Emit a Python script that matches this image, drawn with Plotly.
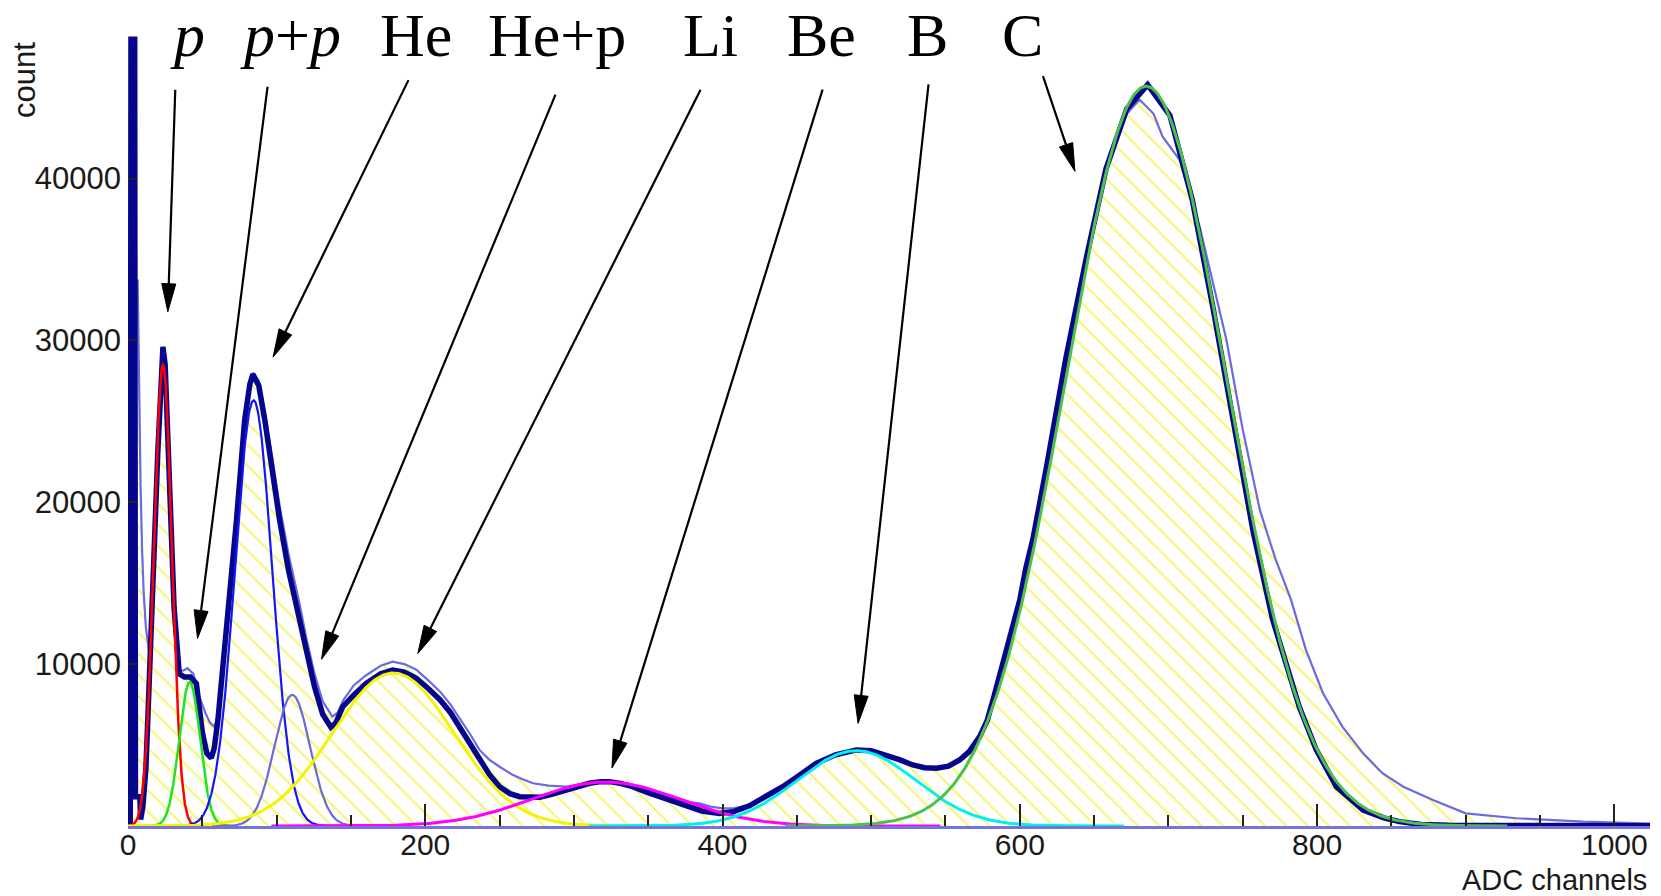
import numpy as np
import plotly.graph_objects as go

# ---- spectrum data: ADC channel -> counts ----
# full spectrum (thick dark histogram)
main_ch = [1.5, 2.0, 4.5, 5.0, 8.0, 8.5, 10, 12, 13.5, 14.5, 16, 18, 20, 22, 23.5, 25, 26.5, 28, 31, 34.5,
           38, 42, 46, 50, 53, 56, 58, 60.5, 65, 70.5, 73, 78.5, 82, 84, 88, 92, 97, 102, 108, 115.5,
           120, 125.5, 131, 136.5, 140, 144.5, 152, 160, 170, 178, 186, 194, 202, 210, 217, 223, 230,
           236.5, 243, 250, 257, 263.5, 270, 277, 285, 295, 302, 310.5, 318, 324, 332, 339.5, 348,
           357.5, 366, 375.5, 386, 398, 408, 418, 430, 440.5, 452, 463, 476, 490, 500, 510, 519, 528,
           536, 544, 552, 559.5, 566, 573, 578, 582, 586, 591, 595.5, 600, 604, 609, 618, 631, 645,
           658, 672, 686, 701, 716, 730, 743, 757, 770, 777, 788, 799.5, 813, 831, 845, 855.5, 870,
           889, 920, 960, 1000, 1024]
main_cnt = [0, 48600, 48600, 1800, 1800, 400, 1200, 3500, 7000, 10000, 13500, 18000, 23000, 27500, 29600,
            28500, 25000, 21000, 13500, 9400, 9200, 9200, 8800, 5800, 4500, 4200, 4800, 6550, 10700,
            15800, 18900, 25100, 27300, 27900, 27200, 25100, 22000, 18900, 15800, 12700, 10700, 8600,
            6900, 6100, 6400, 7370, 8100, 8800, 9400, 9640, 9500, 9130, 8500, 7790, 7000, 6140, 5100,
            4080, 3200, 2430, 2000, 1810, 1750, 1770, 1950, 2220, 2450, 2640, 2740, 2740, 2620, 2430,
            2120, 1810, 1500, 1190, 930, 780, 900, 1250, 1850, 2430, 3150, 3870, 4400, 4700, 4650,
            4390, 4100, 3770, 3600, 3570, 3700, 4080, 4600, 5520, 6500, 7790, 9200, 10880, 12400,
            13970, 15900, 17800, 22200, 28900, 35200, 40600, 44300, 45800, 43900, 38700, 32000, 25200,
            18200, 12800, 10700, 7370, 4700, 2430, 990, 500, 270, 100, 40, 20, 15, 30, 20]

# second spectrum (hatched histogram)
alt_ch = [1.5, 2, 6.5, 7.5, 8.5, 9.5, 10.5, 12, 14, 14.8, 16, 18, 20, 22, 23.5, 25, 26.5, 28, 31, 34.5,
          37, 40, 44, 48, 52, 55, 58, 61, 65, 70.5, 73, 78.5, 82, 84, 88, 92, 97, 102, 108, 115.5, 120,
          125.5, 131, 137.5, 141, 145, 152, 160, 170, 178, 186, 194, 202, 210, 217, 223, 230, 236.5,
          243, 250, 258, 265, 272.5, 283, 295, 302, 310.5, 318, 324, 332, 340, 348, 358, 366, 375.5,
          384.5, 392, 400, 408, 418, 430, 440.5, 452, 463, 476, 490, 500, 510, 519, 528, 536, 544,
          552, 559.5, 566, 573, 578, 582, 586, 591, 595.5, 600, 604, 609, 618, 631, 645, 658, 672,
          680.5, 685, 690, 696, 707.5, 721, 730, 739, 750, 761.5, 772, 782.5, 792.5, 804, 817, 831,
          844, 858, 878, 900, 934, 979, 1019, 1024]
alt_cnt = [0, 33700, 33700, 26000, 20800, 17000, 14500, 12300, 10800, 10300, 13500, 18000, 23000, 27500,
           29600, 28500, 25000, 21000, 13500, 9600, 9600, 9750, 9400, 8000, 7000, 6400, 6140, 6800,
           10700, 15800, 18900, 25100, 27500, 28000, 27500, 25600, 22800, 19800, 16800, 13700, 11600,
           9400, 7700, 6760, 7000, 7800, 8700, 9300, 9900, 10150, 10000, 9650, 9000, 8300, 7500, 6700,
           5700, 4700, 4100, 3660, 3200, 2900, 2640, 2500, 2430, 2550, 2700, 2800, 2780, 2660, 2500,
           2250, 1950, 1700, 1500, 1400, 1200, 1090, 1100, 1300, 1900, 2430, 3150, 3870, 4400, 4700,
           4650, 4390, 4100, 3770, 3600, 3570, 3700, 4080, 4600, 5520, 6500, 7790, 9200, 10880, 12400,
           13970, 15900, 17800, 22200, 28900, 35200, 40600, 44000, 44870, 44460, 44000, 42600, 41160,
           37040, 33500, 30040, 24500, 19530, 16500, 13970, 10880, 8200, 6140, 4490, 3260, 2430, 1610,
           780, 480, 270, 170, 150]

# ---- Gaussian fit components ----
fit_mean = [23.5, 41.5, 84.5, 110.5, 178.5, 321.5, 490.0, 685.0]
fit_sigma = [6.0, 7.0, 12.5, 12.0, 41.0, 50.0, 40.0, 54.0]
fit_amp = [28500, 8900, 26300, 8100, 9450, 2720, 4650, 45700]
fit_color = ["#ff0000", "#1ee61e", "#1414ff", "#6a6ad8", "#f4f400", "#ff00ff", "#00f0f0", "#4cc04c"]
fit_width = [2.5, 2.5, 2.2, 2.2, 3, 3, 3, 3]

# ---- peak labels with arrows (tail -> tip, in channel / count units) ----
label_text = ["<i>p</i>", "<i>p</i>+<i>p</i>", "He", "He+p", "Li", "Be", "B", "C"]
label_px = [187, 290, 416, 557, 710, 821, 927.5, 1022.5]
arrow_tail = [(31.8, 45490), (93.9, 45670), (188.7, 46080), (287.6, 45180),
              (385.2, 45490), (467.3, 45490), (538.6, 45820), (615.6, 46330)]
arrow_tip = [(26.8, 31770), (46.8, 11590), (97.6, 28970), (130.2, 10300),
             (195.0, 10660), (325.6, 3585), (491.2, 6340), (637.1, 40445)]

# ---- page geometry ----
W, H = 1661, 896
ML, MR, MT, MB = 128, 11, 28, 70
XMAX, YMAX = 1024, 49300
PW, PH = W - ML - MR, H - MT - MB
SX, SY = PW / XMAX, PH / YMAX


def to_px(ch, cnt):
    return ML + ch * SX, MT + (YMAX - cnt) * SY


def to_data(px, py):
    return (px - ML) / SX, YMAX - (py - MT) / SY


fig = go.Figure()

# hatched histogram
fig.add_trace(go.Scatter(
    x=alt_ch, y=alt_cnt, mode="lines",
    line=dict(color="#6b6be0", width=2.2),
    fill="tozeroy", fillcolor="rgba(255,255,255,0)",
    fillpattern=dict(shape="\\", fgcolor="#eeee00", bgcolor="rgba(255,255,255,0)",
                     size=15, solidity=0.15, fillmode="overlay"),
    hoverinfo="skip", showlegend=False))

# full spectrum
fig.add_trace(go.Scatter(
    x=main_ch, y=main_cnt, mode="lines",
    line=dict(color="#06068c", width=5.5),
    hoverinfo="skip", showlegend=False))

# fit components
for mu, sg, amp, col, lw in zip(fit_mean, fit_sigma, fit_amp, fit_color, fit_width):
    xs = np.linspace(max(mu - 4.5 * sg, 0), min(mu + 4.5 * sg, XMAX), 400)
    ys = amp * np.exp(-0.5 * ((xs - mu) / sg) ** 2)
    fig.add_trace(go.Scatter(x=xs, y=ys, mode="lines", line=dict(color=col, width=lw),
                             hoverinfo="skip", showlegend=False))

# arrows drawn as line + filled head
shapes = []
head_len, head_half = 28, 7
for (tx, ty), (hx, hy) in zip(arrow_tail, arrow_tip):
    x0, y0 = to_px(tx, ty)
    x1, y1 = to_px(hx, hy)
    d = np.hypot(x1 - x0, y1 - y0)
    ux, uy = (x1 - x0) / d, (y1 - y0) / d
    bx, by = x1 - ux * head_len, y1 - uy * head_len
    nx, ny = -uy, ux
    p_tail = to_data(x0, y0)
    p_base = to_data(bx + ux * 4, by + uy * 4)
    shapes.append(dict(type="line", xref="x", yref="y",
                       x0=p_tail[0], y0=p_tail[1], x1=p_base[0], y1=p_base[1],
                       line=dict(color="black", width=2.2)))
    a = to_data(x1, y1)
    b = to_data(bx + nx * head_half, by + ny * head_half)
    c = to_data(bx - nx * head_half, by - ny * head_half)
    shapes.append(dict(type="path", xref="x", yref="y",
                       path=f"M{a[0]},{a[1]} L{b[0]},{b[1]} L{c[0]},{c[1]} Z",
                       fillcolor="black", line=dict(color="black", width=1)))

annotations = []
for txt, px in zip(label_text, label_px):
    annotations.append(dict(text=txt, xref="paper", yref="paper",
                            x=(px - ML) / PW, y=(H - MB - 35) / PH,
                            xanchor="center", yanchor="middle", showarrow=False,
                            font=dict(family="Liberation Serif", size=62, color="black")))

annotations.append(dict(text="count", xref="paper", yref="paper",
                        x=(24 - ML) / PW, y=(H - MB - 80) / PH, textangle=-90,
                        xanchor="center", yanchor="middle", showarrow=False,
                        font=dict(family="Liberation Sans", size=31, color="#1a1a1a")))
annotations.append(dict(text="ADC channels", xref="paper", yref="paper",
                        x=(1649 - ML) / PW, y=(H - MB - 880) / PH,
                        xanchor="right", yanchor="middle", showarrow=False,
                        font=dict(family="Liberation Sans", size=29, color="#1a1a1a")))

fig.update_layout(
    width=W, height=H,
    margin=dict(l=ML, r=MR, t=MT, b=MB),
    paper_bgcolor="white", plot_bgcolor="white",
    shapes=shapes, annotations=annotations,
    xaxis=dict(range=[0, XMAX], tick0=0, dtick=200, ticks="inside", ticklen=22, tickwidth=2,
               tickcolor="#222", showgrid=False, zeroline=False,
               showline=True, linecolor="#7474dc", linewidth=3,
               ticklabelstandoff=-10,
               tickfont=dict(family="Liberation Sans", size=30, color="#1a1a1a"),
               minor=dict(dtick=50, ticks="inside", ticklen=11, tickwidth=1.6, tickcolor="#222")),
    yaxis=dict(range=[0, YMAX], tickvals=[10000, 20000, 30000, 40000],
               ticktext=["10000", "20000", "30000", "40000"],
               ticks="inside", ticklen=9, tickwidth=2, tickcolor="#222",
               showgrid=False, zeroline=False, showline=False,
               ticklabelstandoff=6,
               tickfont=dict(family="Liberation Sans", size=31, color="#1a1a1a")),
)

fig.write_html("out.html")
